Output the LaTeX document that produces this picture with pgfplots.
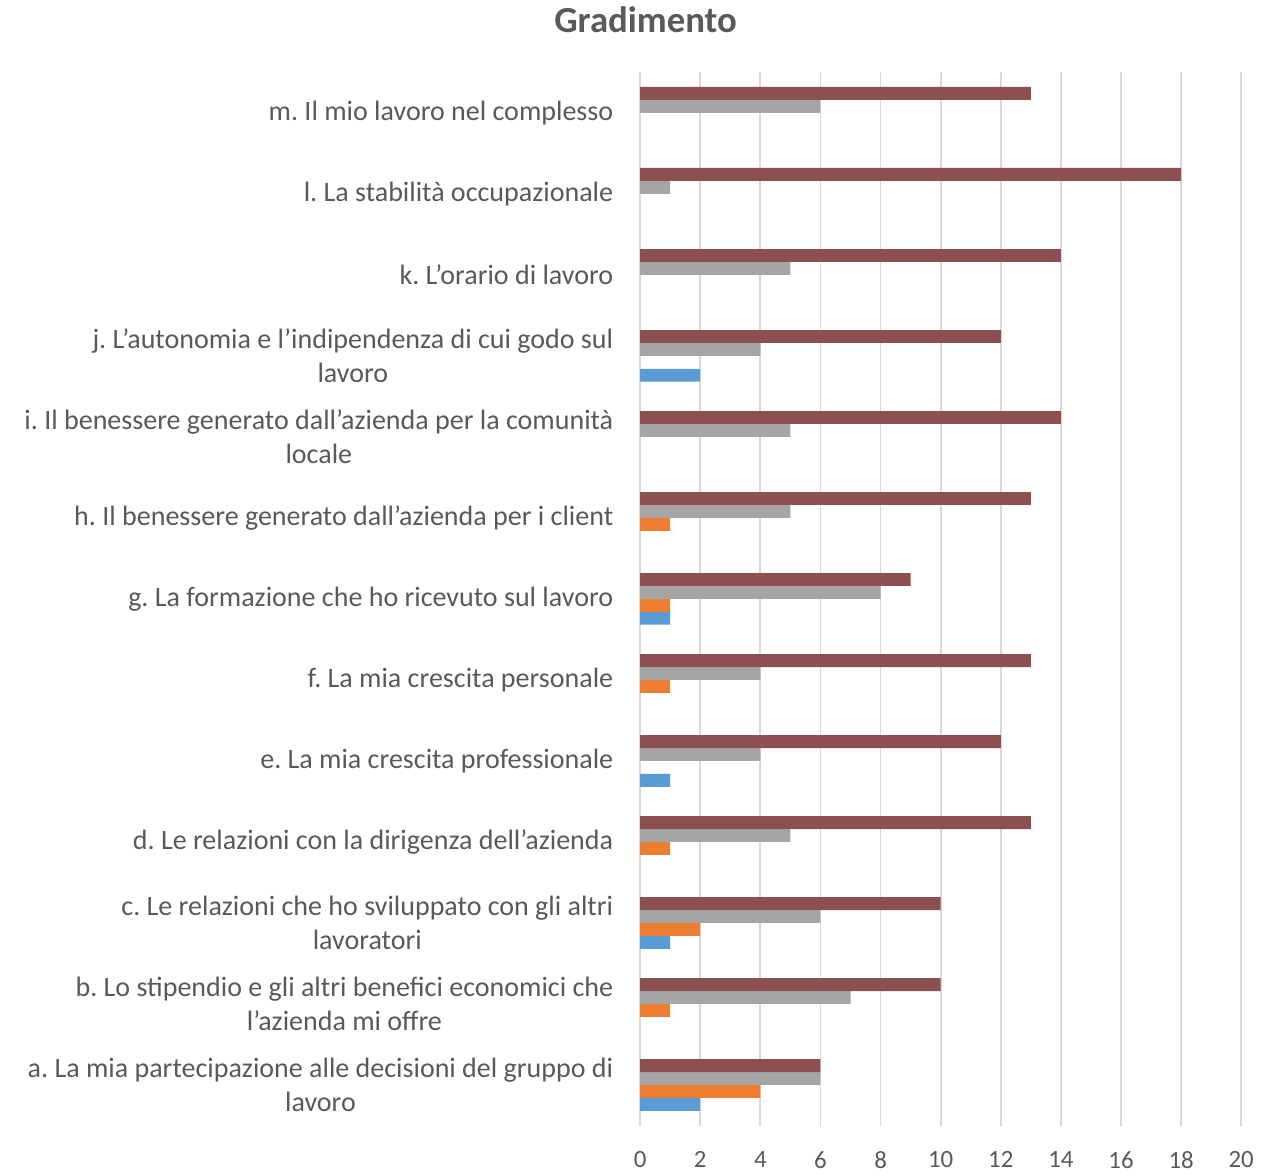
\documentclass[border=0pt]{standalone}
\usepackage{pgfplots}
\pgfplotsset{compat=1.18}
\usepackage{fontspec}
\setmainfont{Carlito}
\frenchspacing
\definecolor{sblue}{HTML}{5B9BD5}
\definecolor{sorange}{HTML}{ED7D31}
\definecolor{sgray}{HTML}{A5A5A5}
\definecolor{sred}{HTML}{8C5050}
\definecolor{txt}{HTML}{595959}
\definecolor{gridc}{HTML}{D9D9D9}
\begin{document}
\begin{tikzpicture}
\begin{axis}[
  scale only axis, width=302.5pt, height=530pt,
  xbar=0pt, bar width=6.5pt,
  xmin=0, xmax=20, xtick={0,2,...,20},
  ymin=-0.5, ymax=12.5, ytick={0,...,12},
  yticklabels={
    {a. La mia partecipazione alle decisioni del gruppo di\\lavoro},
    {b. Lo stipendio e gli altri benefici economici che\\l’azienda mi offre},
    {c. Le relazioni che ho sviluppato con gli altri\\lavoratori},
    {d. Le relazioni con la dirigenza dell’azienda},
    {e. La mia crescita professionale},
    {f. La mia crescita personale},
    {g. La formazione che ho ricevuto sul lavoro},
    {h. Il benessere generato dall’azienda per i client},
    {i. Il benessere generato dall’azienda per la comunità\\locale},
    {j. L’autonomia e l’indipendenza di cui godo sul\\lavoro},
    {k. L’orario di lavoro},
    {l. La stabilità occupazionale},
    {m. Il mio lavoro nel complesso}},
  y tick label style={align=center, font=\fontsize{14.1}{17}\selectfont, text=txt, xshift=-10pt},
  x tick label style={font=\fontsize{12.5}{14}\selectfont, text=txt, yshift=-9.5pt},
  /pgf/number format/assume math mode=true,
  major tick length=0pt,
  axis line style={draw=none},
  xmajorgrids, ymajorgrids=false, grid style={draw=gridc, line width=0.9pt},
  title={Gradimento},
  title style={font=\bfseries\fontsize{18.5}{22}\selectfont, text=txt, at={(0.5,1)}, anchor=center, yshift=20.5pt, xshift=-148.5pt},
]
\addplot[fill=sblue, draw=none] coordinates {(2,0) (1,2) (1,4) (1,6) (2,9)};
\addplot[fill=sorange, draw=none] coordinates {(4,0) (1,1) (2,2) (1,3) (1,5) (1,6) (1,7)};
\addplot[fill=sgray, draw=none] coordinates {(6,0) (7,1) (6,2) (5,3) (4,4) (4,5) (8,6) (5,7) (5,8) (4,9) (5,10) (1,11) (6,12)};
\addplot[fill=sred, draw=none] coordinates {(6,0) (10,1) (10,2) (13,3) (12,4) (13,5) (9,6) (13,7) (14,8) (12,9) (14,10) (18,11) (13,12)};
\end{axis}
\path ([xshift=17.5pt]current axis.east) ([xshift=-9pt]current axis.outer west);
\end{tikzpicture}
\end{document}
